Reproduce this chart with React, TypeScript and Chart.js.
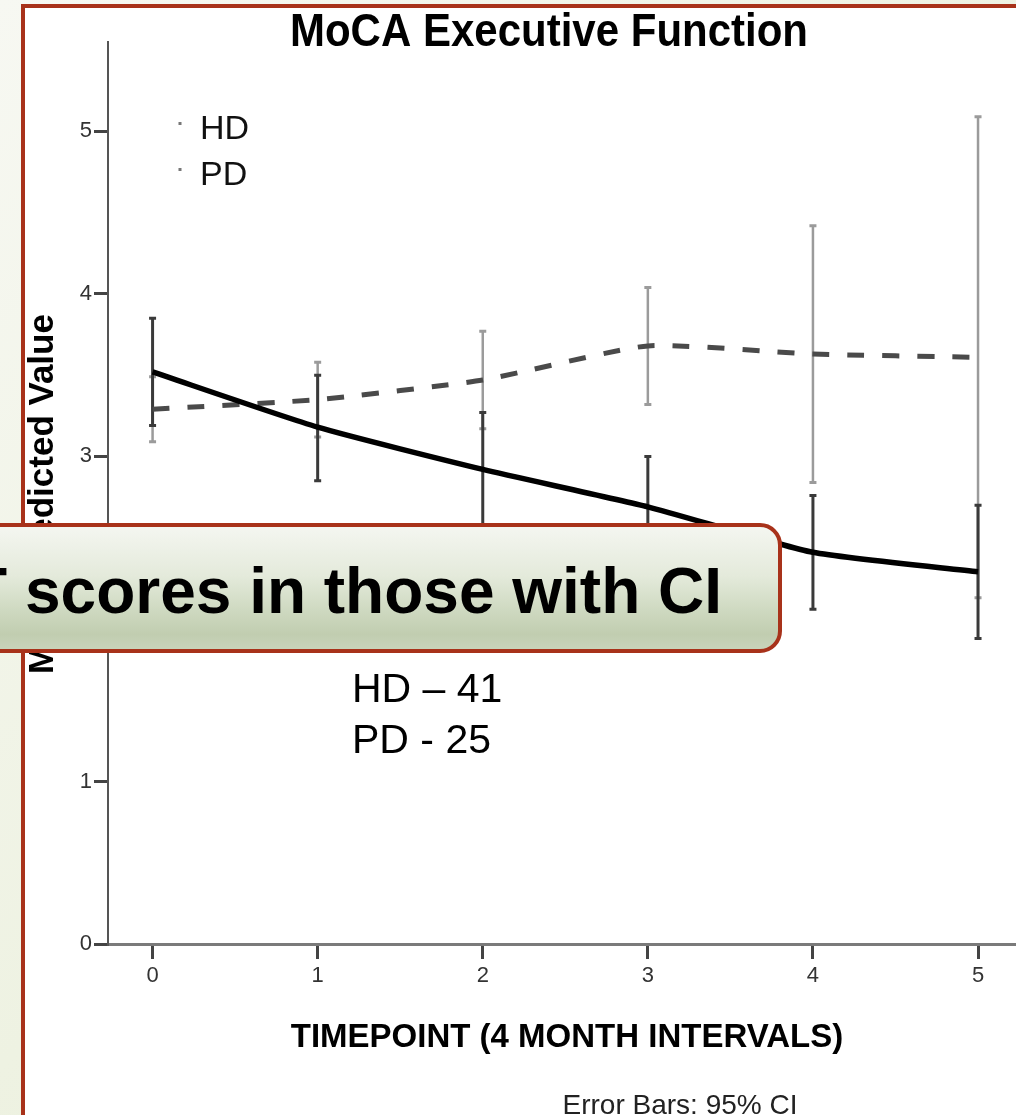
import React, { useEffect, useRef } from "react";
import { Chart, registerables } from "chart.js";

Chart.register(...registerables);

const FONT = "'Liberation Sans', Arial, Helvetica, sans-serif";

const chartTitle = "MoCA Executive Function";
const xAxisTitle = "TIMEPOINT (4 MONTH INTERVALS)";
const yAxisTitle = "Mean Predicted Value";
const errorNote = "Error Bars: 95% CI";
const calloutText = "T scores in those with CI";
const countLines = ["HD \u2013 41", "PD - 25"];

const seriesLabels = ["HD", "PD"];
const timepoints = [0, 1, 2, 3, 4, 5];
const hdMean = [3.52, 3.18, 2.92, 2.69, 2.41, 2.29];
const hdLower = [3.19, 2.85, 2.57, 2.38, 2.06, 1.88];
const hdUpper = [3.85, 3.5, 3.27, 3.0, 2.76, 2.7];
const pdMean = [3.29, 3.35, 3.47, 3.68, 3.63, 3.61];
const pdLower = [3.09, 3.12, 3.17, 3.32, 2.84, 2.13];
const pdUpper = [3.49, 3.58, 3.77, 4.04, 4.42, 5.09];
const yTickValues = [0, 1, 2, 3, 4, 5];
const xTickValues = [0, 1, 2, 3, 4, 5];

const errorBarPlugin = {
  id: "errorBars",
  beforeDatasetsDraw(chart: any) {
    const { ctx } = chart;
    const x = chart.scales.x;
    const y = chart.scales.y;
    const groups = [
      { lo: pdLower, hi: pdUpper, color: "#9b9b9b", width: 2.5 },
      { lo: hdLower, hi: hdUpper, color: "#3a3a3a", width: 3 },
    ];
    ctx.save();
    for (const g of groups) {
      ctx.strokeStyle = g.color;
      timepoints.forEach((t, i) => {
        const px = x.getPixelForValue(t);
        const top = y.getPixelForValue(g.hi[i]);
        const bot = y.getPixelForValue(g.lo[i]);
        ctx.lineWidth = g.width;
        ctx.beginPath();
        ctx.moveTo(px, top);
        ctx.lineTo(px, bot);
        ctx.stroke();
        ctx.lineWidth = 3;
        ctx.beginPath();
        ctx.moveTo(px - 3.5, top);
        ctx.lineTo(px + 3.5, top);
        ctx.moveTo(px - 3.5, bot);
        ctx.lineTo(px + 3.5, bot);
        ctx.stroke();
      });
    }
    ctx.restore();
  },
};

const textPlugin = {
  id: "texts",
  afterDraw(chart: any) {
    const { ctx } = chart;
    ctx.save();
    ctx.fillStyle = "#000";
    // title (slightly tall)
    ctx.font = `bold 42px ${FONT}`;
    ctx.textAlign = "center";
    ctx.textBaseline = "alphabetic";
    ctx.save();
    ctx.translate(549, 46);
    ctx.scale(1, 1.1);
    ctx.fillText(chartTitle, 0, 0);
    ctx.restore();
    // y axis title
    ctx.save();
    ctx.translate(53, 494);
    ctx.rotate(-Math.PI / 2);
    ctx.font = `bold 35px ${FONT}`;
    ctx.fillText(yAxisTitle, 0, 0);
    ctx.restore();
    // x axis title
    ctx.font = `bold 33px ${FONT}`;
    ctx.fillText(xAxisTitle, 567, 1047);
    // error note
    ctx.fillStyle = "#222";
    ctx.font = `28px ${FONT}`;
    ctx.fillText(errorNote, 680, 1114);
    // legend
    const legendY = [139, 185];
    ctx.textAlign = "left";
    chart.data.datasets.forEach((ds: any, i: number) => {
      ctx.fillStyle = "#777";
      ctx.fillRect(178.5, legendY[i] - 17, 3, 3);
      ctx.fillStyle = "#111";
      ctx.font = `34px ${FONT}`;
      ctx.fillText(ds.label, 200, legendY[i]);
    });
    ctx.restore();
  },
};

function ChartCanvas() {
  const ref = useRef<HTMLCanvasElement | null>(null);
  useEffect(() => {
    if (!ref.current) return;
    const chart = new Chart(ref.current, {
      type: "line",
      data: {
        datasets: [
          {
            label: seriesLabels[0],
            data: timepoints.map((t, i) => ({ x: t, y: hdMean[i] })),
            borderColor: "#000",
            borderWidth: 5.5,
            tension: 0.18,
            pointRadius: 0,
            fill: false,
          },
          {
            label: seriesLabels[1],
            data: timepoints.map((t, i) => ({ x: t, y: pdMean[i] })),
            borderColor: "#4a4a4a",
            borderWidth: 5,
            borderDash: [17, 18],
            borderCapStyle: "butt",
            tension: 0.18,
            pointRadius: 0,
            fill: false,
          },
        ],
      },
      options: {
        animation: false,
        responsive: false,
        devicePixelRatio: 1,
        layout: { padding: { left: 0, top: 42, right: 0, bottom: 111 } },
        plugins: {
          legend: { display: false },
          title: { display: false },
          tooltip: { enabled: false },
        },
        scales: {
          x: {
            type: "linear",
            min: -0.27,
            max: 5.23,
            afterBuildTicks: (s: any) => {
              s.ticks = xTickValues.map((v) => ({ value: v }));
            },
            afterFit: (s: any) => {
              s.height = 60;
            },
            grid: {
              display: true,
              drawOnChartArea: false,
              drawTicks: true,
              tickLength: 15,
              color: "#444",
              lineWidth: 3,
            },
            border: { display: true, color: "#7a7a7a", width: 3 },
            ticks: {
              color: "#333",
              font: { family: FONT, size: 22 },
              padding: 4,
              maxRotation: 0,
              callback: (v: any) => String(v),
            },
          },
          y: {
            type: "linear",
            min: 0,
            max: 5.55,
            afterBuildTicks: (s: any) => {
              s.ticks = yTickValues.map((v) => ({ value: v }));
            },
            afterFit: (s: any) => {
              s.width = 108;
            },
            grid: {
              display: true,
              drawOnChartArea: false,
              drawTicks: true,
              tickLength: 14,
              color: "#444",
              lineWidth: 3,
            },
            border: { display: true, color: "#555", width: 2 },
            ticks: {
              color: "#333",
              font: { family: FONT, size: 22 },
              padding: 2,
              callback: (v: any) => String(v),
            },
          },
        },
      },
      plugins: [errorBarPlugin, textPlugin],
    } as any);
    return () => chart.destroy();
  }, []);
  return (
    <canvas
      ref={ref}
      width={1016}
      height={1115}
      style={{ position: "absolute", left: 0, top: 0, width: 1016, height: 1115, zIndex: 1 }}
    />
  );
}

export default function App() {
  return (
    <div
      style={{
        position: "fixed",
        left: 0,
        top: 0,
        width: 1016,
        height: 1115,
        overflow: "hidden",
        background: "linear-gradient(135deg, #f7f8f2 0%, #eef2e2 50%, #e8edd8 100%)",
        fontFamily: FONT,
      }}
    >
      <div
        style={{
          position: "absolute",
          left: 21,
          top: 4,
          width: 1100,
          height: 1200,
          boxSizing: "border-box",
          border: "4px solid #a8321a",
          background: "#fff",
          zIndex: 0,
        }}
      />
      <ChartCanvas />
      <div
        style={{
          position: "absolute",
          left: 352,
          top: 663,
          fontSize: 41,
          lineHeight: "51px",
          color: "#000",
          zIndex: 2,
          whiteSpace: "pre",
        }}
      >
        {countLines.map((l, i) => (
          <div key={i}>{l}</div>
        ))}
      </div>
      <div
        style={{
          position: "absolute",
          left: -40,
          top: 523,
          width: 822,
          height: 130,
          boxSizing: "border-box",
          border: "4px solid #a8321a",
          borderRadius: 22,
          background:
            "linear-gradient(to bottom, #f4f6f0 0%, #e4eadb 40%, #cdd8bf 70%, #c1cdb0 88%, #c8d3ba 100%)",
          display: "flex",
          justifyContent: "flex-end",
          alignItems: "center",
          paddingRight: 56,
          paddingTop: 6,
          fontWeight: "bold",
          fontSize: 64,
          color: "#000",
          whiteSpace: "nowrap",
          zIndex: 3,
        }}
      >
        {calloutText}
      </div>
    </div>
  );
}
